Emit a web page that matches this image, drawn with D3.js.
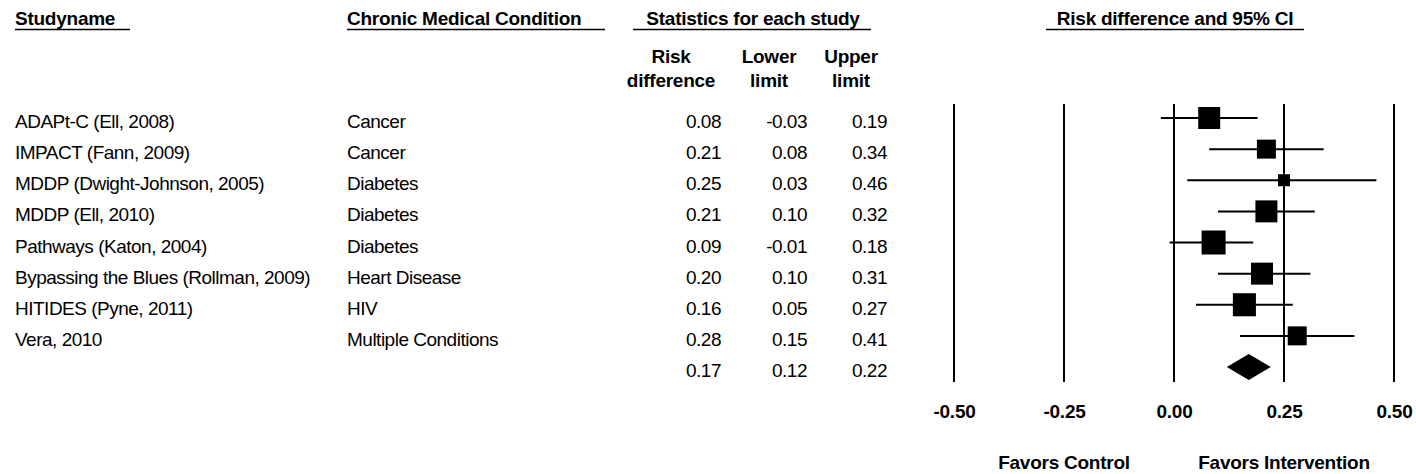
<!DOCTYPE html>
<html>
<head>
<meta charset="utf-8">
<script src="https://cdn.jsdelivr.net/npm/d3@7"></script>
<style>
  body { margin: 0; background: #fff; }
  svg { display: block; font-family: "Liberation Sans", Arial, sans-serif; }
</style>
</head>
<body>
<div id="chart"></div>
<script>
// study rows
const studies = [
    "ADAPt-C (Ell, 2008)",
    "IMPACT (Fann, 2009)",
    "MDDP (Dwight-Johnson, 2005)",
    "MDDP (Ell, 2010)",
    "Pathways (Katon, 2004)",
    "Bypassing the Blues (Rollman, 2009)",
    "HITIDES (Pyne, 2011)",
    "Vera, 2010"
];
const conditions = ["Cancer", "Cancer", "Diabetes", "Diabetes", "Diabetes", "Heart Disease", "HIV", "Multiple Conditions"];
const riskDiff = [0.08, 0.21, 0.25, 0.21, 0.09, 0.20, 0.16, 0.28];
const lowerLimit = [-0.03, 0.08, 0.03, 0.10, -0.01, 0.10, 0.05, 0.15];
const upperLimit = [0.19, 0.34, 0.46, 0.32, 0.18, 0.31, 0.27, 0.41];
// relative weight (%)
const relWeight = [14.1, 10.5, 4.2, 14.1, 16.8, 14.1, 15.5, 10.5];
// pooled estimate: point, lower, upper
const pooled = [0.17, 0.12, 0.22];
const tickValues = [-0.50, -0.25, 0.00, 0.25, 0.50];

const W = 1416, H = 474;

const svg = d3.select("#chart").append("svg")
    .attr("width", W)
    .attr("height", H);

svg.append("rect").attr("width", W).attr("height", H).attr("fill", "#fff");

const fmt = d3.formatLocale({decimal: ".", thousands: ",", grouping: [3], currency: ["", ""], minus: "-"}).format(".2f");

// scales
const x = d3.scaleLinear().domain([-0.5, 0.5]).range([954, 1394]);
const rowIdx = d3.range(studies.length + 1);
const y = d3.scalePoint().domain(rowIdx).range([118, 367]);
const boxSize = d3.scaleSqrt().domain([0, d3.max(relWeight)]).range([0, 24]);

const rows = studies.map((s, i) => ({
    name: s, cond: conditions[i], rd: riskDiff[i], lo: lowerLimit[i], hi: upperLimit[i], w: relWeight[i], i: i
}));

// bold text helper
function boldText(sel) {
    return sel.style("font-size", "19px")
        .style("font-weight", "bold")
        .style("letter-spacing", "-0.25px");
}

// header titles with underline
const headers = [
    {text: "Studyname", x: 15, anchor: "start", u0: 15, u1: 130},
    {text: "Chronic Medical Condition", x: 347, anchor: "start", u0: 347, u1: 605},
    {text: "Statistics for each study", x: 753, anchor: "middle", u0: 633, u1: 871},
    {text: "Risk difference and 95% CI", x: 1175, anchor: "middle", u0: 1046, u1: 1304}
];
headers.forEach(h => {
    boldText(svg.append("text")
        .attr("x", h.x)
        .attr("y", 25)
        .attr("text-anchor", h.anchor))
        .text(h.text);
    svg.append("line")
        .attr("x1", h.u0).attr("x2", h.u1)
        .attr("y1", 29.5).attr("y2", 29.5)
        .attr("stroke", "#000")
        .attr("stroke-width", 1.5);
});

// column sub headers
const subHeads = [
    {lines: ["Risk", "difference"], x: 671},
    {lines: ["Lower", "limit"], x: 769},
    {lines: ["Upper", "limit"], x: 851}
];
subHeads.forEach(s => {
    s.lines.forEach((t, k) => {
        boldText(svg.append("text")
            .attr("x", s.x)
            .attr("y", 63 + k * 24)
            .attr("text-anchor", "middle"))
            .text(t);
    });
});

// table text
const textRow = svg.append("g")
    .style("font-size", "19px")
    .style("letter-spacing", "-0.5px");

textRow.selectAll(".name").data(rows).enter().append("text")
    .attr("x", 15)
    .attr("y", d => y(d.i) + 10)
    .text(d => d.name);

textRow.selectAll(".cond").data(rows).enter().append("text")
    .attr("x", 347)
    .attr("y", d => y(d.i) + 10)
    .text(d => d.cond);

const allRows = rows.concat([{rd: pooled[0], lo: pooled[1], hi: pooled[2], i: studies.length}]);
const numCols = [
    {key: "rd", x: 721},
    {key: "lo", x: 807},
    {key: "hi", x: 887}
];
numCols.forEach(c => {
    textRow.selectAll(".num-" + c.key).data(allRows).enter().append("text")
        .attr("x", c.x)
        .attr("y", d => y(d.i) + 10)
        .attr("text-anchor", "end")
        .text(d => fmt(d[c.key]));
});

// vertical reference lines
svg.selectAll(".vline").data(tickValues).enter().append("line")
    .attr("x1", d => x(d)).attr("x2", d => x(d))
    .attr("y1", 104).attr("y2", 382)
    .attr("stroke", "#000")
    .attr("stroke-width", 2);

// tick labels
const axis = svg.append("g")
    .attr("transform", "translate(0,401)")
    .call(d3.axisBottom(x).tickValues(tickValues).tickFormat(fmt).tickSize(0));
axis.select(".domain").remove();
boldText(axis.selectAll("text")
    .attr("fill", "#000")
    .style("font-family", "Liberation Sans, Arial, sans-serif"));

// confidence intervals
svg.selectAll(".ci").data(rows).enter().append("line")
    .attr("x1", d => x(d.lo)).attr("x2", d => x(d.hi))
    .attr("y1", d => y(d.i)).attr("y2", d => y(d.i))
    .attr("stroke", "#000")
    .attr("stroke-width", 2);

// boxes
svg.selectAll(".box").data(rows).enter().append("rect")
    .attr("x", d => x(d.rd) - boxSize(d.w) / 2)
    .attr("y", d => y(d.i) - boxSize(d.w) / 2)
    .attr("width", d => boxSize(d.w))
    .attr("height", d => boxSize(d.w))
    .attr("fill", "#000");

// pooled diamond
const py = y(studies.length);
svg.append("path")
    .attr("d", `M${x(pooled[1])},${py} L${x(pooled[0])},${py - 13} L${x(pooled[2])},${py} L${x(pooled[0])},${py + 13} Z`)
    .attr("fill", "#000");

// favours labels
[{t: "Favors Control", v: -0.25}, {t: "Favors Intervention", v: 0.25}].forEach(f => {
    boldText(svg.append("text")
        .attr("x", x(f.v))
        .attr("y", 469)
        .attr("text-anchor", "middle"))
        .text(f.t);
});
</script>
</body>
</html>
